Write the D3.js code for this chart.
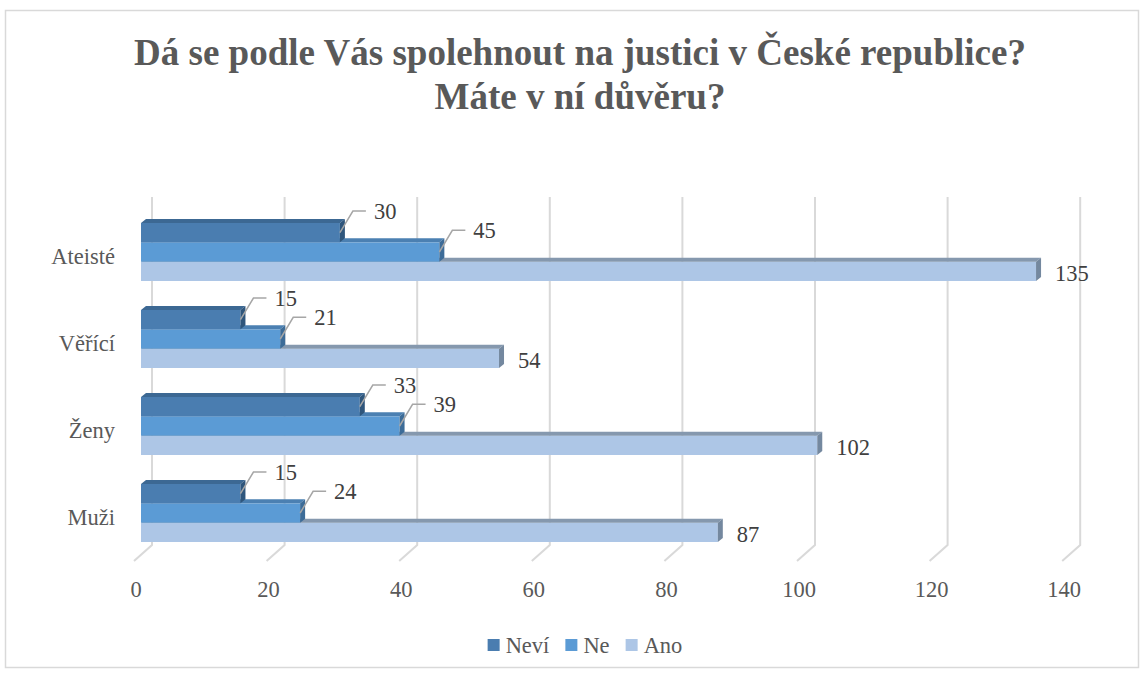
<!DOCTYPE html>
<html>
<head>
<meta charset="utf-8">
<script src="https://cdn.jsdelivr.net/npm/d3@7"></script>
<style>
	body { margin: 0; background: #fff; }
</style>
</head>
<body>
<svg id="chart" width="1144" height="675"></svg>
<script>
var categories = ['Ateisté', 'Věřící', 'Ženy', 'Muži'];
var series = ['Neví', 'Ne', 'Ano'];
var neviValues = [30, 15, 33, 15];
var neValues = [45, 21, 39, 24];
var anoValues = [135, 54, 102, 87];
var tickValues = [0, 20, 40, 60, 80, 100, 120, 140];
var titleLines = ['Dá se podle Vás spolehnout na justici v České republice?', 'Máte v ní důvěru?'];

var FONT = '"Liberation Serif", "Times New Roman", "DejaVu Serif", serif';

var colors = {
	'Neví': { front: '#4a7db0', top: '#3c6893', side: '#2f567c' },
	'Ne': { front: '#5b9bd5', top: '#4b80b2', side: '#3d6c98' },
	'Ano': { front: '#adc6e6', top: '#8598ae', side: '#74889f' }
};

var svg = d3.select('#chart').attr('font-family', FONT);

// frame
svg.append('rect')
	.attr('x', 5.5).attr('y', 10.5)
	.attr('width', 1133).attr('height', 657)
	.attr('fill', '#fff')
	.attr('stroke', '#d9d9d9')
	.attr('stroke-width', 1.5);

// title
svg.append('text')
	.attr('font-family', FONT)
	.attr('text-anchor', 'middle')
	.attr('fill', '#595959')
	.attr('font-weight', 'bold')
	.attr('font-size', '37px')
	.selectAll('tspan')
	.data(titleLines)
	.join('tspan')
	.attr('x', 580)
	.attr('y', function(d, i) { return 65 + i * 44; })
	.text(function(d) { return d; });

var x = d3.scaleLinear().domain([0, 140]).range([141, 141 + 140 * 6.63]);
var depth = { x: 5, y: -4 };      // bar depth
var wall = { x: 11, floorX: -18, floorY: 16, top: 197, bottom: 545 };

var y = d3.scaleBand()
	.domain(categories)
	.range([208.5, 556.5])
	.paddingInner(1 / 3)
	.paddingOuter(1 / 6);

var ys = d3.scaleBand().domain(series).range([0, y.bandwidth()]);

// gridlines on the back wall, bending onto the floor
svg.append('g')
	.selectAll('path')
	.data(tickValues)
	.join('path')
	.attr('d', function(t) {
		var xb = x(t) + wall.x;
		return 'M' + xb + ',' + wall.top + 'V' + wall.bottom + 'L' + (xb + wall.floorX) + ',' + (wall.bottom + wall.floorY);
	})
	.attr('fill', 'none')
	.attr('stroke', '#d9d9d9')
	.attr('stroke-width', 2);

// axis labels
svg.append('g')
	.selectAll('text')
	.data(tickValues)
	.join('text')
	.attr('font-family', FONT)
	.attr('x', function(t) { return x(t) + wall.x + wall.floorX + 2; })
	.attr('y', 597)
	.attr('text-anchor', 'middle')
	.attr('font-size', '22.5px')
	.attr('fill', '#595959')
	.text(function(t) { return t; });

// category labels
svg.append('g')
	.selectAll('text')
	.data(categories)
	.join('text')
	.attr('font-family', FONT)
	.attr('x', 115)
	.attr('y', function(c) { return y(c) + y.bandwidth() / 2 + 12; })
	.attr('text-anchor', 'end')
	.attr('font-size', '22.5px')
	.attr('fill', '#595959')
	.text(function(c) { return c; });

var valuesBySeries = { 'Neví': neviValues, 'Ne': neValues, 'Ano': anoValues };

var bars = [];
categories.forEach(function(c, ci) {
	// draw the lowest bar first so the one above covers its top face
	series.slice().reverse().forEach(function(s) {
		bars.push({ category: c, series: s, value: valuesBySeries[s][ci] });
	});
});

var barH = ys.bandwidth();

var barG = svg.append('g')
	.selectAll('g')
	.data(bars)
	.join('g');

barG.append('rect')
	.attr('x', x(0))
	.attr('y', function(d) { return y(d.category) + ys(d.series); })
	.attr('width', function(d) { return x(d.value) - x(0); })
	.attr('height', barH)
	.attr('fill', function(d) { return colors[d.series].front; });

barG.append('path')
	.attr('d', function(d) {
		var top = y(d.category) + ys(d.series), x0 = x(0), x1 = x(d.value);
		return 'M' + x0 + ',' + top + 'L' + (x0 + depth.x) + ',' + (top + depth.y) +
			'L' + (x1 + depth.x) + ',' + (top + depth.y) + 'L' + x1 + ',' + top + 'Z';
	})
	.attr('fill', function(d) { return colors[d.series].top; });

barG.append('path')
	.attr('d', function(d) {
		var top = y(d.category) + ys(d.series), x1 = x(d.value);
		return 'M' + x1 + ',' + top + 'L' + (x1 + depth.x) + ',' + (top + depth.y) +
			'L' + (x1 + depth.x) + ',' + (top + barH + depth.y) + 'L' + x1 + ',' + (top + barH) + 'Z';
	})
	.attr('fill', function(d) { return colors[d.series].side; });

// data labels: Ano sits right of its bar, the others get a leader line
var labelG = svg.append('g');

bars.forEach(function(d) {
	var top = y(d.category) + ys(d.series),
		x1 = x(d.value);

	if (d.series === 'Ano') {
		labelG.append('text')
			.attr('font-family', FONT)
			.attr('x', x1 + 19)
			.attr('y', top + barH / 2 + 10)
			.attr('font-size', '22.5px')
			.attr('fill', '#404040')
			.text(d.value);
		return;
	}

	var ly = top - 12;
	labelG.append('path')
		.attr('d', 'M' + x1 + ',' + (top + barH / 2) + 'L' + (x1 + 13) + ',' + ly + 'H' + (x1 + 26))
		.attr('fill', 'none')
		.attr('stroke', '#a6a6a6')
		.attr('stroke-width', 1.5);

	labelG.append('text')
		.attr('font-family', FONT)
		.attr('x', x1 + 34)
		.attr('y', ly + 8)
		.attr('font-size', '22.5px')
		.attr('fill', '#404040')
		.text(d.value);
});

// legend
var legend = svg.append('g');
var lx = 0;
series.forEach(function(s) {
	var item = legend.append('g').attr('transform', 'translate(' + lx + ',0)');
	item.append('rect')
		.attr('x', 0).attr('y', 639)
		.attr('width', 12).attr('height', 12)
		.attr('fill', colors[s].front);
	var t = item.append('text')
		.attr('font-family', FONT)
		.attr('x', 18).attr('y', 653)
		.attr('font-size', '22.5px')
		.attr('fill', '#595959')
		.text(s);
	lx += 18 + t.node().getComputedTextLength() + 16;
});
var legendW = lx - 16;
legend.attr('transform', 'translate(' + (585 - legendW / 2) + ',0)');
</script>
</body>
</html>
